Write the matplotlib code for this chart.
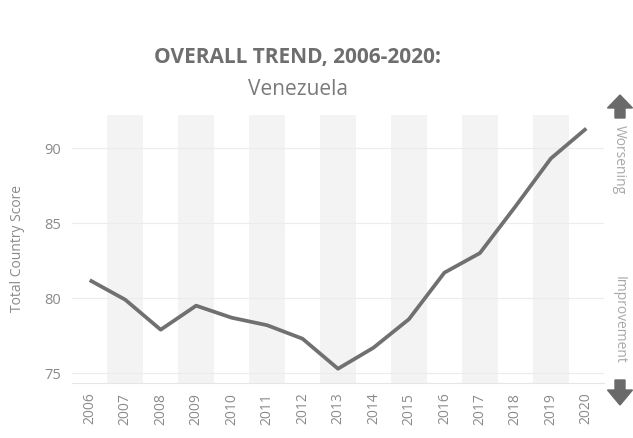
import matplotlib.pyplot as plt
from matplotlib.patches import FancyArrow

years = [2006, 2007, 2008, 2009, 2010, 2011, 2012, 2013, 2014, 2015, 2016, 2017, 2018, 2019, 2020]
scores = [81.2, 79.9, 77.9, 79.5, 78.7, 78.2, 77.3, 75.3, 76.7, 78.6, 81.7, 83.0, 86.1, 89.3, 91.3]
y_ticks = [75, 80, 85, 90]

plt.rcParams['font.family'] = ['Open Sans', 'DejaVu Sans']

fig = plt.figure(figsize=(6.33, 4.38), dpi=100)
ax = fig.add_axes([72 / 633, 1 - 383 / 438, 532 / 633, 268 / 438])

# alternating column shading (odd years)
for yr in years:
    if yr % 2 == 1:
        ax.axvspan(yr - 0.5, yr + 0.5, color='#f3f3f3', lw=0, zorder=0)

for t in y_ticks:
    ax.axhline(t, color='#ececec', lw=0.8, zorder=1)

ax.plot(years, scores, color='#707070', lw=2.7, solid_capstyle='butt', zorder=3)

ax.set_xlim(2005.5, 2020.5)
ax.set_ylim(74.35, 92.2)
ax.set_yticks(y_ticks)
ax.set_xticks(years)
ax.set_xticklabels([str(y) for y in years], rotation=90, fontsize=10, color='#8a8a8a')
ax.tick_params(axis='y', labelsize=10.5, labelcolor='#8a8a8a', length=0, pad=8)
ax.tick_params(axis='x', length=0, pad=7)
for s in ax.spines.values():
    s.set_visible(False)
ax.axhline(74.35, color='#e6e6e6', lw=0.8, clip_on=False)

ax.set_ylabel('Total Country Score', fontsize=10, color='#8a8a8a', labelpad=14)

fig.text(298 / 633, 1 - 58 / 438, 'OVERALL TREND, 2006-2020:', ha='center', va='center',
         fontsize=15, fontweight='bold', color='#6e6e6e')
fig.text(298 / 633, 1 - 90 / 438, 'Venezuela', ha='center', va='center',
         fontsize=15, color='#7a7a7a')

# right side indicators
fig.text(619 / 633, 1 - 160 / 438, 'Worsening', rotation=-90, ha='center', va='center',
         fontsize=10, color='#a8a8a8')
fig.text(619 / 633, 1 - 320 / 438, 'Improvement', rotation=-90, ha='center', va='center',
         fontsize=10, color='#a8a8a8')

tr = fig.dpi_scale_trans
fig.patches.append(FancyArrow(6.20, (438 - 118) / 100, 0, 0.23, width=0.10, head_width=0.25,
                              head_length=0.13, length_includes_head=True,
                              color='#6a6a6a', transform=tr, figure=fig))
fig.patches.append(FancyArrow(6.20, (438 - 380) / 100, 0, -0.25, width=0.10, head_width=0.25,
                              head_length=0.15, length_includes_head=True,
                              color='#6a6a6a', transform=tr, figure=fig))

fig.savefig('out.png', dpi=100, facecolor='white')
